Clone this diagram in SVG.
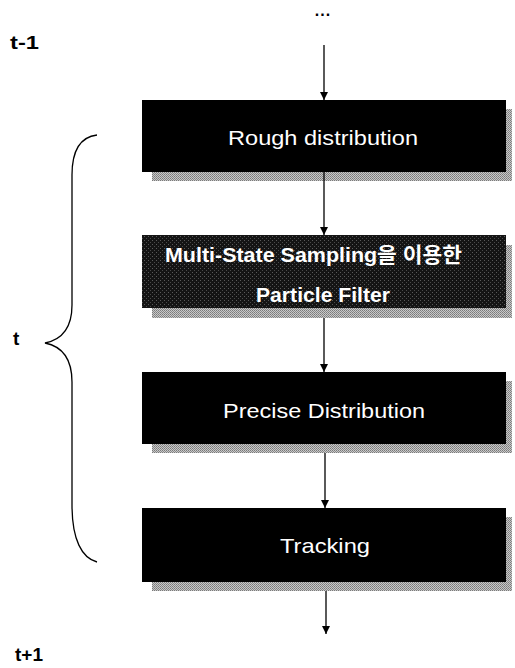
<svg xmlns="http://www.w3.org/2000/svg" width="515" height="668" viewBox="0 0 515 668">
<defs>
<marker id="ah" markerWidth="10" markerHeight="10" refX="8" refY="4" orient="auto" markerUnits="userSpaceOnUse">
<path d="M0,0 L8,4 L0,8 Z" fill="#000"/>
</marker>
<pattern id="dither" width="4" height="4" patternUnits="userSpaceOnUse">
<rect width="4" height="4" fill="#141414"/>
<rect x="0" y="0" width="1" height="1" fill="#5a5a5a"/>
<rect x="2" y="2" width="1" height="1" fill="#4a4a4a"/>
</pattern>
<pattern id="shade" width="2" height="2" patternUnits="userSpaceOnUse">
<rect width="2" height="2" fill="#c8c8c8"/>
<rect x="0" y="0" width="1" height="1" fill="#7a7a7a"/>
<rect x="1" y="1" width="1" height="1" fill="#8a8a8a"/>
</pattern>
</defs>
<style>
.shadow{fill:url(#shade)}
.box{fill:#000}
.lbl{font-family:"Liberation Sans","Noto Sans CJK KR",sans-serif;font-size:21px;fill:#fff}
.side{font-family:"Liberation Sans",sans-serif;font-size:19px;font-weight:bold;fill:#000}
.conn{stroke:#000;stroke-width:1.3;fill:none}
</style>
<rect width="515" height="668" fill="#fff"/>
<text class="side" x="10" y="49" textLength="29" lengthAdjust="spacingAndGlyphs">t-1</text>
<text class="side" x="13" y="345">t</text>
<text class="side" x="15" y="661" textLength="28" lengthAdjust="spacingAndGlyphs">t+1</text>
<text x="323" y="16" text-anchor="middle" font-family="Liberation Sans,sans-serif" font-size="16" font-weight="bold" letter-spacing="1">...</text>
<g id="brace">
<path class="conn" d="M97,135 C80,137 72,150 72,175 L72,305 C72,330 60,340 45,343 C60,346 72,356 72,382 L72,505 C72,540 82,558 97,562"/>
</g>
<g id="node-rough">
<rect class="shadow" x="152" y="109" width="360" height="72"/>
<rect class="box" x="142" y="100" width="364" height="72"/>
<text class="lbl" x="228" y="145" textLength="190" lengthAdjust="spacingAndGlyphs">Rough distribution</text>
</g>
<g id="node-msspf">
<rect class="shadow" x="152" y="245" width="360" height="73"/>
<rect x="142" y="235" width="364" height="73" fill="url(#dither)"/>
<text class="lbl" x="165" y="262" font-weight="bold" textLength="297" lengthAdjust="spacingAndGlyphs">Multi-State Sampling을 이용한</text>
<text class="lbl" x="256" y="302" font-weight="bold" textLength="134" lengthAdjust="spacingAndGlyphs">Particle Filter</text>
</g>
<g id="node-precise">
<rect class="shadow" x="152" y="381" width="360" height="72"/>
<rect class="box" x="142" y="372" width="364" height="72"/>
<text class="lbl" x="223" y="418" textLength="202" lengthAdjust="spacingAndGlyphs">Precise Distribution</text>
</g>
<g id="node-tracking">
<rect class="shadow" x="152" y="517" width="360" height="74"/>
<rect class="box" x="142" y="508" width="364" height="74"/>
<text class="lbl" x="280" y="553" textLength="90" lengthAdjust="spacingAndGlyphs">Tracking</text>
</g>
<g id="connectors">
<line class="conn" x1="324" y1="45" x2="324" y2="100" marker-end="url(#ah)"/>
<line class="conn" x1="324" y1="172" x2="324" y2="235" marker-end="url(#ah)"/>
<line class="conn" x1="324" y1="318" x2="324" y2="372" marker-end="url(#ah)"/>
<line class="conn" x1="325" y1="453" x2="325" y2="508" marker-end="url(#ah)"/>
<line class="conn" x1="326" y1="591" x2="326" y2="634" marker-end="url(#ah)"/>
</g>
</svg>
